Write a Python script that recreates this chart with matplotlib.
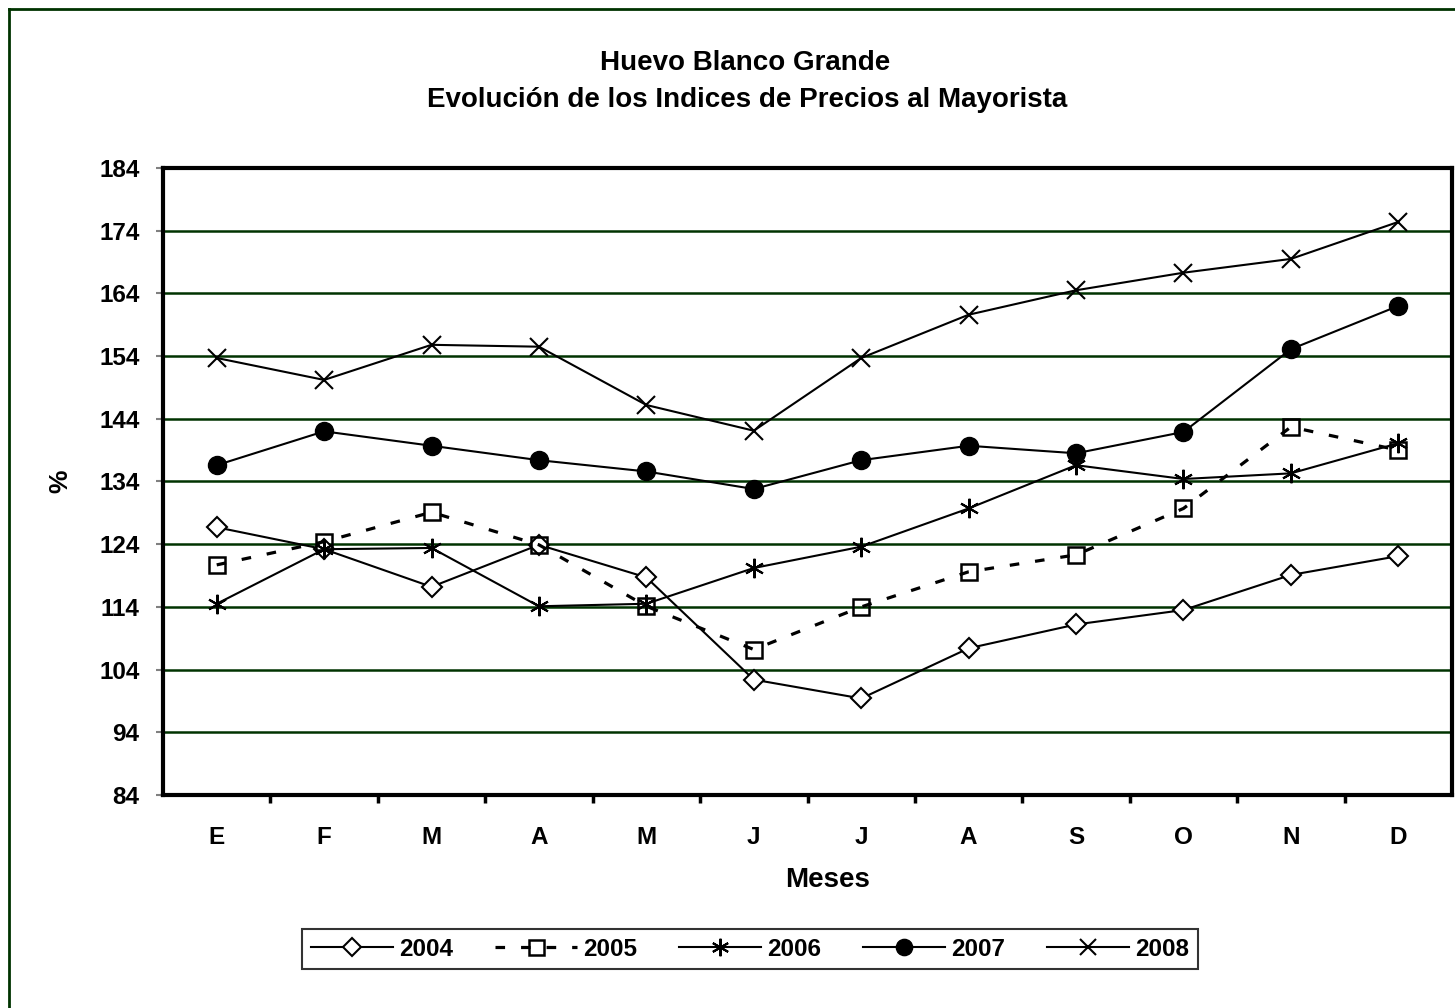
import matplotlib
matplotlib.use("Agg")
import matplotlib.pyplot as plt
from matplotlib.lines import Line2D

plt.rcParams['font.family'] = ['Liberation Sans', 'DejaVu Sans']

months = ["E", "F", "M", "A", "M", "J", "J", "A", "S", "O", "N", "D"]
y2004 = [126.7, 123.2, 117.2, 123.9, 118.7, 102.4, 99.4, 107.4, 111.2, 113.5, 119.1, 122.1]
y2005 = [120.7, 124.4, 129.1, 123.9, 114.1, 107.2, 114.0, 119.6, 122.3, 129.7, 142.7, 139.0]
y2006 = [114.5, 123.2, 123.4, 114.1, 114.5, 120.2, 123.6, 129.7, 136.6, 134.4, 135.3, 140.1]
y2007 = [136.6, 142.0, 139.7, 137.4, 135.6, 132.8, 137.4, 139.7, 138.5, 141.9, 155.1, 162.0]
y2008 = [153.7, 150.2, 155.8, 155.5, 146.2, 142.1, 153.7, 160.6, 164.5, 167.3, 169.5, 175.4]
yticks = [84, 94, 104, 114, 124, 134, 144, 154, 164, 174, 184]

W, H = 1455, 1008
fig = plt.figure(figsize=(W / 100, H / 100), dpi=100)
fig.patch.set_facecolor("white")

# outer green border (cropped on right and bottom)
green = "#003300"
fig.add_artist(Line2D([9 / W, 9 / W], [0, 1 - 9 / H], transform=fig.transFigure, color=green, lw=2))
fig.add_artist(Line2D([9 / W, 1], [1 - 9 / H, 1 - 9 / H], transform=fig.transFigure, color=green, lw=2))

ax = fig.add_axes([163 / W, 1 - 795 / H, (1452 - 163) / W, (795 - 168) / H])
x = list(range(len(months)))

ax.plot(x, y2004, color="black", lw=1.5, marker="D", ms=10.5, mfc="white", mec="black", mew=1.5, label="2004", zorder=3)
ax.plot(x, y2005, color="black", lw=2.3, ls=(0, (3, 5)), marker="s", ms=12, mfc="none", mec="black", mew=1.8, label="2005", zorder=3)
ax.plot(x, y2006, color="black", lw=1.5, marker=(6, 2, 0), ms=14, mec="black", mew=1.5, label="2006", zorder=3)
ax.plot(x, y2007, color="black", lw=1.5, marker="o", ms=13, mfc="black", mec="black", label="2007", zorder=3)
ax.plot(x, y2008, color="black", lw=1.5, marker="x", ms=13, mec="black", mew=1.5, label="2008", zorder=3)

ax.set_xlim(-0.5, len(months) - 0.5)
ax.set_ylim(84, 184)
ax.set_yticks(yticks)
ax.set_yticklabels([str(v) for v in yticks], fontsize=17.5, fontweight="bold")
ax.tick_params(axis="y", direction="out", length=5, width=1.5, color="#808080", pad=12)

ax.set_xticks(x)
ax.set_xticklabels(months, fontsize=17.5, fontweight="bold")
ax.tick_params(axis="x", which="major", length=0, pad=22)
ax.set_xticks([i + 0.5 for i in x[:-1]], minor=True)
ax.tick_params(axis="x", which="minor", direction="out", length=6, width=2.5, color="black")

for v in yticks[1:-1]:
    ax.axhline(v, color=green, lw=1.8, zorder=1)

for s in ax.spines.values():
    s.set_linewidth(3)
    s.set_color("black")

fig.text(745 / W, 1 - 63 / H, "Huevo Blanco Grande", ha="center", va="center", fontsize=20, fontweight="bold")
fig.text(747 / W, 1 - 100 / H, "Evolución de los Indices de Precios al Mayorista", ha="center", va="center", fontsize=20, fontweight="bold")
fig.text(60 / W, 1 - 481 / H, "%", ha="center", va="center", rotation=90, fontsize=19, fontweight="bold")
fig.text(828 / W, 1 - 880 / H, "Meses", ha="center", va="center", fontsize=20, fontweight="bold")

leg = fig.legend(loc="center", bbox_to_anchor=(750 / W, 1 - 949 / H), ncol=5, frameon=True,
                 fancybox=False, edgecolor="black", prop={"weight": "bold", "size": 17.5},
                 handlelength=3.4, handletextpad=0.25, columnspacing=1.7, borderpad=0.35,
                 markerscale=0.9)
leg.get_frame().set_linewidth(1.5)

fig.savefig("out.png", dpi=100, facecolor="white")
